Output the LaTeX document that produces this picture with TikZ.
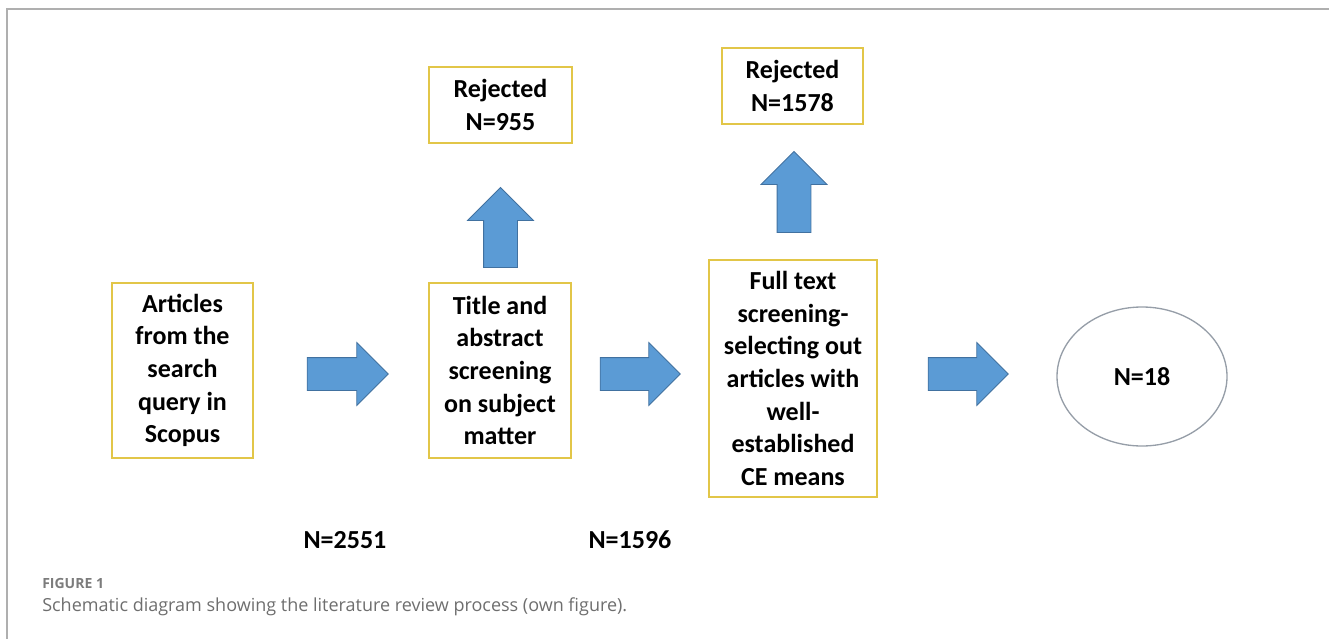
\documentclass[tikz,border=0pt]{standalone}
\usepackage{fontspec}
\setmainfont{Carlito}
\newfontfamily\capfont{Open Sans}
\usetikzlibrary{shapes.geometric,shapes.arrows,positioning}
\definecolor{boxline}{RGB}{226,198,72}
\definecolor{arrowblue}{RGB}{91,155,213}
\definecolor{arrowedge}{RGB}{65,113,160}
\definecolor{ovalline}{RGB}{150,158,168}
\definecolor{framegray}{RGB}{175,175,175}
\definecolor{captiongray}{RGB}{110,110,110}

\begin{document}
\begin{tikzpicture}[x=0.75pt, y=-0.75pt,
    stagebox/.style={rectangle, draw=boxline, line width=1pt, fill=white, inner sep=0pt, align=center,
        font=\fontsize{19.5}{24.5}\selectfont\bfseries},
    blockarrow/.style={single arrow, draw=arrowedge, fill=arrowblue, line width=0.6pt,
        inner xsep=0pt, inner ysep=12pt, single arrow tip angle=90, single arrow head extend=11.25pt},
    uparrow/.style={blockarrow, inner ysep=12.375pt, single arrow head extend=12pt, rotate=90},
    countlabel/.style={font=\fontsize{19.5}{23}\selectfont\bfseries}]

    \useasboundingbox (0,0) rectangle (1329,639);

    % Frame
    \draw[framegray, line width=0.8pt] (7,639) -- (7,9) -- (1329,9);

    % Articles
    \node[stagebox, minimum width=105.75pt, minimum height=131.25pt] (articles) at (182.5,370.5)
        {Articles\\from the\\search\\query in\\Scopus};

    % Title and abstract
    \node[stagebox, minimum width=106.5pt, minimum height=131.25pt] (titleabs) at (500,370.5)
        {Title and\\abstract\\screening\\on subject\\matter};

    % Full text
    \node[stagebox, minimum width=126pt, minimum height=177.75pt] (fulltext) at (793,378.5)
        {Full text\\screening-\\selecting out\\articles with\\well-\\established\\CE means};

    % Rejected
    \node[stagebox, minimum width=107.25pt, minimum height=57pt] (rej1) at (500.5,105)
        {Rejected\\N=955};
    \node[stagebox, minimum width=105.75pt, minimum height=57pt] (rej2) at (792.5,86)
        {Rejected\\N=1578};

    % Result
    \node[ellipse, draw=ovalline, line width=1pt, minimum width=127.5pt, minimum height=104.25pt,
        font=\fontsize{19.5}{23}\selectfont\bfseries] (result) at (1142,376.5) {N=18};

    % Block arrows
    \node[blockarrow, minimum height=60.75pt] (arr1) at (339.5,374) {};
    \node[blockarrow, minimum height=60pt] (arr2) at (632,374) {};
    \node[blockarrow, minimum height=60pt] (arr3) at (960,374) {};
    \node[uparrow, minimum height=60pt] (up1) at (500.5,236) {};
    \node[uparrow, minimum height=60.75pt] (up2) at (794,200.5) {};

    % Counts below
    \node[countlabel] (n1) at (345,540) {N=2551};
    \node[countlabel] (n2) at (630,540) {N=1596};

    % Caption
    \node[anchor=base west, inner sep=0pt, text=captiongray!90, font=\capfont\fontsize{10.5}{12}\selectfont\bfseries]
        (fig) at (42,588) {FIGURE 1};
    \node[anchor=base west, inner sep=0pt, text=captiongray, font=\capfont\fontsize{13.5}{16}\selectfont]
        (caption) at (42,611) {Schematic diagram showing the literature review process (own figure).};
\end{tikzpicture}
\end{document}
